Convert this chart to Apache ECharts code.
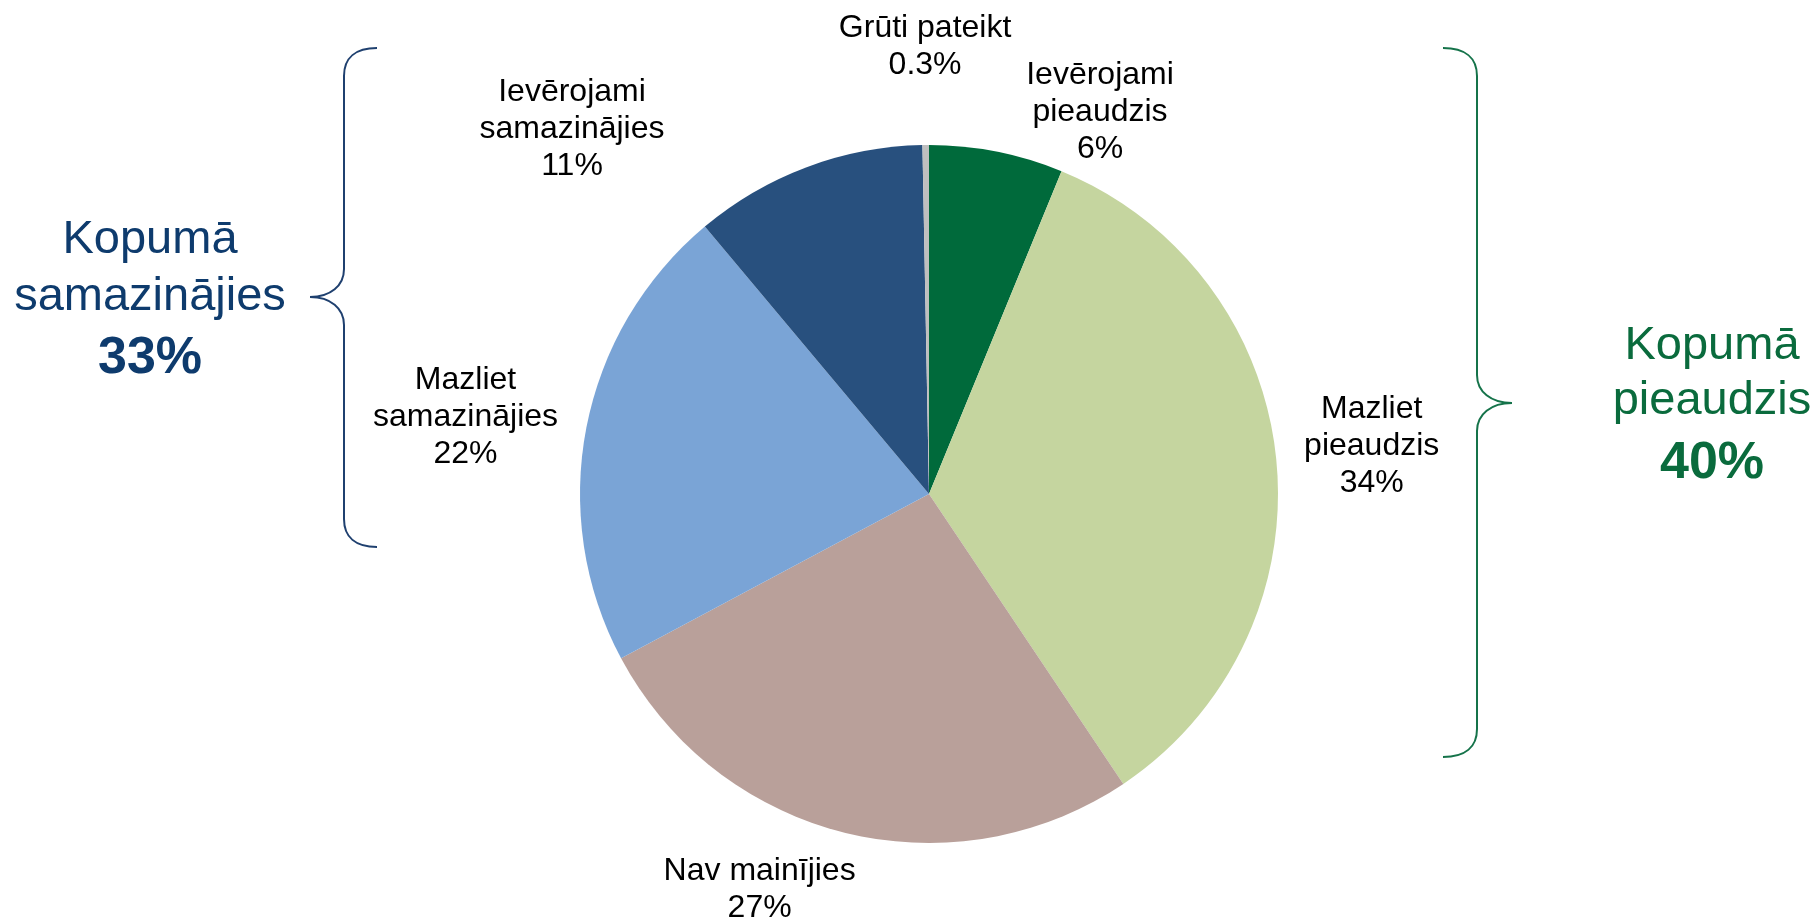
<!DOCTYPE html>
<html>
<head>
<meta charset="utf-8">
<script src="https://cdn.jsdelivr.net/npm/echarts@6/dist/echarts.min.js"></script>
<style>
  html, body { margin: 0; padding: 0; background: #ffffff; }
  #chart { width: 1820px; height: 921px; }
</style>
</head>
<body>
<div id="chart"></div>
<script>
// ---- data ----
const categories = ['Ievērojami pieaudzis', 'Mazliet pieaudzis', 'Nav mainījies', 'Mazliet samazinājies', 'Ievērojami samazinājies', 'Grūti pateikt'];
const categoryLabels = ['Ievērojami\npieaudzis', 'Mazliet\npieaudzis', 'Nav mainījies', 'Mazliet\nsamazinājies', 'Ievērojami\nsamazinājies', 'Grūti pateikt'];
const values = [6.2, 34.4, 26.6, 21.7, 10.8, 0.3];
const increasedIdx = [0, 1];
const decreasedIdx = [3, 4];
const totalTitleDown = ['Kopumā', 'samazinājies'];
const totalTitleUp = ['Kopumā', 'pieaudzis'];

// ---- styles / layout ----
const colors = ['#006A3B', '#C5D59F', '#B9A09A', '#7AA4D6', '#28507E', '#BFBFBF'];
const FONT = '"Liberation Sans", Arial, Helvetica, sans-serif';
const CX = 929, CY = 494, R = 349;
// label placement: [angle in degrees clockwise from 12 o'clock, distance as multiple of radius]
const labelPlacement = [[24.1, 1.2], [83.8, 1.276], [203.2, 1.232], [279.4, 1.346], [315.6, 1.462], [359.5, 1.283]];

function fmtPct(v) { return v < 1 ? v.toFixed(1) + '%' : Math.round(v) + '%'; }
const upTotal = increasedIdx.reduce((s, i) => s + Math.round(values[i]), 0);
const downTotal = decreasedIdx.reduce((s, i) => s + Math.round(values[i]), 0);

const chart = echarts.init(document.getElementById('chart'), null, { renderer: 'canvas' });

const blue = '#0E3B6D', green = '#0A6B3D';
const braceBlue = '#1F406F', braceGreen = '#15734A';

function txt(x, y, text, size, weight, color) {
  return {
    type: 'text', x: x, y: y, silent: true,
    style: {
      text: text, fill: color, align: 'center', verticalAlign: 'middle',
      font: weight + ' ' + size + 'px ' + FONT
    }
  };
}

// brace: ex = x of the ends, vx = x of the vertical, tx = x of the tip,
// y0 top, ty tip y, y1 bottom, c = curve length
function brace(ex, vx, tx, y0, ty, y1, c, color) {
  const st = { stroke: color, lineWidth: 2, fill: null };
  const d = vx - ex;
  const t = tx - vx;
  return [
    { type: 'bezierCurve', silent: true, style: st,
      shape: { x1: ex, y1: y0, cpx1: ex + d * 0.65, cpy1: y0, cpx2: vx, cpy2: y0 + c * 0.35, x2: vx, y2: y0 + c } },
    { type: 'line', silent: true, style: st, shape: { x1: vx, y1: y0 + c, x2: vx, y2: ty - c } },
    { type: 'bezierCurve', silent: true, style: st,
      shape: { x1: vx, y1: ty - c, cpx1: vx, cpy1: ty - c * 0.4, cpx2: vx + t * 0.4, cpy2: ty, x2: tx, y2: ty } },
    { type: 'bezierCurve', silent: true, style: st,
      shape: { x1: tx, y1: ty, cpx1: vx + t * 0.4, cpy1: ty, cpx2: vx, cpy2: ty + c * 0.4, x2: vx, y2: ty + c } },
    { type: 'line', silent: true, style: st, shape: { x1: vx, y1: ty + c, x2: vx, y2: y1 - c } },
    { type: 'bezierCurve', silent: true, style: st,
      shape: { x1: vx, y1: y1 - c, cpx1: vx, cpy1: y1 - c * 0.35, cpx2: ex + d * 0.65, cpy2: y1, x2: ex, y2: y1 } }
  ];
}

const option = {
  animation: false,
  backgroundColor: '#ffffff',
  series: [{
    type: 'pie',
    center: [CX, CY],
    radius: R,
    startAngle: 90,
    clockwise: true,
    avoidLabelOverlap: false,
    itemStyle: { borderWidth: 0 },
    label: {
      show: true,
      position: 'outside',
      color: '#000000',
      fontFamily: FONT,
      fontSize: 32,
      lineHeight: 37,
      formatter: function (p) { return categoryLabels[p.dataIndex] + '\n' + fmtPct(p.value); }
    },
    labelLine: { show: false },
    labelLayout: function (p) {
      const pl = labelPlacement[p.dataIndex];
      const a = pl[0] * Math.PI / 180;
      return {
        x: CX + pl[1] * R * Math.sin(a),
        y: CY - pl[1] * R * Math.cos(a),
        align: 'center',
        verticalAlign: 'middle'
      };
    },
    emphasis: { disabled: true },
    data: categories.map((c, i) => ({ name: c, value: values[i], itemStyle: { color: colors[i] } }))
  }],
  graphic: [].concat(
    brace(377, 344, 310, 48, 297, 547, 28, braceBlue),
    brace(1443, 1477, 1512, 48, 403, 757, 28, braceGreen),
    [
      txt(150, 240, totalTitleDown[0], 47, 'normal', blue),
      txt(150, 297, totalTitleDown[1], 47, 'normal', blue),
      txt(150, 359, downTotal + '%', 52, 'bold', blue),
      txt(1712, 346, totalTitleUp[0], 47, 'normal', green),
      txt(1712, 401, totalTitleUp[1], 47, 'normal', green),
      txt(1712, 464, upTotal + '%', 52, 'bold', green)
    ]
  )
};
chart.setOption(option);
</script>
</body>
</html>
